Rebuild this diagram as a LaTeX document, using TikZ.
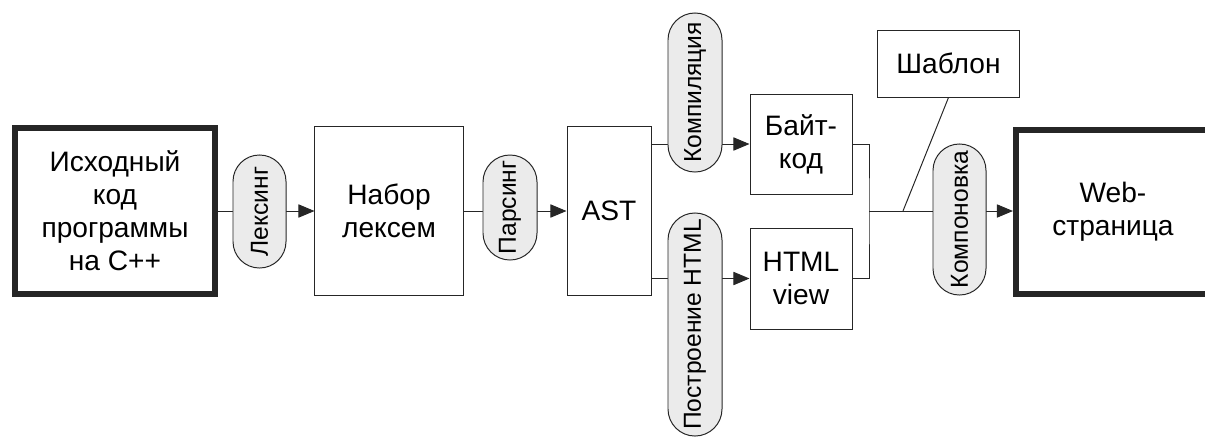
\documentclass[tikz,border=0pt]{standalone}
\usepackage{fontspec}
\setmainfont{Liberation Sans}
\usetikzlibrary{arrows.meta,shapes.misc,backgrounds}

\tikzset{
  block/.style={draw=black!85, line width=0.7pt, align=center, inner sep=2pt},
  bigblock/.style={block, line width=4.3pt},
  stage/.style={draw=black!85, fill=black!8, line width=0.7pt, rounded rectangle,
    rotate=90, inner sep=0pt, minimum height=1.35cm, font=\fontsize{17.5}{21}\selectfont},
  flow/.style={draw=black!85, line width=0.7pt, -{Triangle[length=4mm,width=3.3mm]}},
  wire/.style={draw=black!85, line width=0.7pt},
}

\begin{document}
\begin{tikzpicture}[x=0.025cm, y=-0.025cm, font=\fontsize{20}{23.5}\selectfont]
  \useasboundingbox (0,0) rectangle (1205,437);

  \node[bigblock, minimum width=5cm, minimum height=4.15cm] (src) at (115,211) {Исходный\\код\\программы\\на C++};
  \node[stage, minimum width=2.825cm, minimum height=1.325cm] (lex) at (259.5,211.5) {Лексинг};
  \node[block, minimum width=3.7cm, minimum height=4.2cm] (set) at (389,211) {Набор\\лексем};
  \node[stage, minimum width=2.625cm] (pars) at (510,207.5) {Парсинг};
  \node[block, minimum width=2.1cm, minimum height=4.2cm] (ast) at (609,211) {AST};
  \node[stage, minimum width=3.975cm] (comp) at (695,92.5) {Компиляция};
  \node[block, minimum width=2.55cm, minimum height=2.5cm] (byte) at (801,144) {Байт-\\код};
  \node[stage, minimum width=5.575cm] (build) at (695,324.5) {Построение HTML};
  \node[block, minimum width=2.55cm, minimum height=2.525cm] (view) at (801,278.5) {HTML\\view};
  \node[block, minimum width=3.525cm, minimum height=1.675cm] (tmpl) at (948.5,63.5) {Шаблон};
  \node[stage, minimum width=3.775cm, minimum height=1.325cm] (lay) at (959.5,219.5) {Компоновка};
  \node[bigblock, minimum width=4.85cm, minimum height=4.1cm] (web) at (1113,212) {Web-\\страница};
  \coordinate (jn) at (869,211);
  \coordinate (mrg) at (903,211);

  % connectors go under the stages
  \begin{scope}[on background layer]
    \draw[flow] (src) -- (set);
    \draw[flow] (set) -- (ast);
    \draw[flow] (ast.east |- byte) -- (byte);
    \draw[flow] (ast.east |- view) -- (view);
    \draw[wire] (byte.east) -| (jn) |- (view.east);
    \draw[flow] (jn) -- (jn -| web.west);
    \draw[wire] (tmpl.south) -- (mrg);
  \end{scope}
\end{tikzpicture}
\end{document}
